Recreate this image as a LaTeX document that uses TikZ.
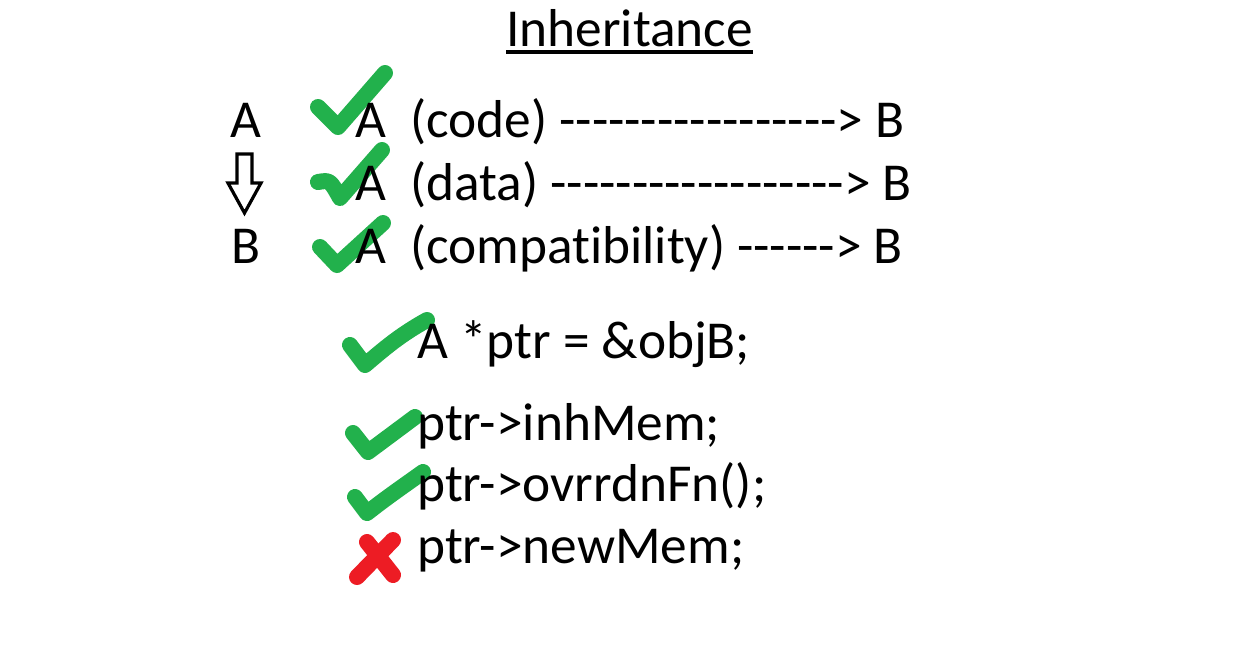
\documentclass[tikz,border=0pt]{standalone}
\usepackage{fontspec}
\newfontfamily\cf{Carlito}[RawFeature={-liga;-clig;-dlig}]
\usetikzlibrary{calc}
\begin{document}
\begin{tikzpicture}[x=0.75pt,y=-0.75pt,
  txt/.style={anchor=base west,inner sep=0pt,font=\cf\fontsize{40}{48}\selectfont},
  okmark/.style={draw={rgb,255:red,34;green,177;blue,76},line width=12pt,line cap=round,line join=round},
  nomark/.style={draw={rgb,255:red,237;green,28;blue,36},line width=12pt,line cap=round},
  hollow/.style={draw=black,line width=2.4pt,fill=white,line join=miter}]
\useasboundingbox[fill=white] (0,0) rectangle (1251,658);
% title
\node[txt] (title) at (506,46) {Inheritance};
\draw[line width=2.3pt] ($(title.base west)+(0,6)$) -- ($(title.base east)+(0,6)$);
% left A => B
\node[txt] (la) at (230,137) {A};
\node[txt] (lb) at (231,263) {B};
\draw[hollow] (237,154) -- (252,154) -- (252,183) -- (261,183) -- (244.5,213) -- (228,183) -- (237,183) -- cycle;
% check marks
\draw[okmark] (318,107) -- (338,127) -- (385,73);
\draw[okmark] (318,182) .. controls (330,180) .. (340,198) -- (382,150);
\draw[okmark] (320,247) -- (337,265) -- (383,223);
% three lines
\node[txt] (l1) at (355,137) {A\ \ (code) -----------------> B};
\node[txt] (l2) at (355,200) {A\ \ (data) ------------------> B};
\node[txt] (l3) at (355,263) {A\ \ (compatibility) ------> B};
% code checks
\draw[okmark] (350,345) -- (365,365) .. controls (385,348) and (400,335) .. (427,320);
\draw[okmark] (353,433) -- (368,452) -- (415,417);
\draw[okmark] (355,497) -- (367,513) .. controls (390,495) and (405,485) .. (423,472);
\draw[nomark] (367,542) -- (393,575);
\draw[nomark] (393,540) -- (357,577);
% code lines
\node[txt] (c1) at (417,358) {A *ptr = \&objB;};
\node[txt] (c2) at (417,440) {ptr->inhMem;};
\node[txt] (c3) at (417,501) {ptr->ovrrdnFn();};
\node[txt] (c4) at (417,563) {ptr->newMem;};
\end{tikzpicture}
\end{document}
